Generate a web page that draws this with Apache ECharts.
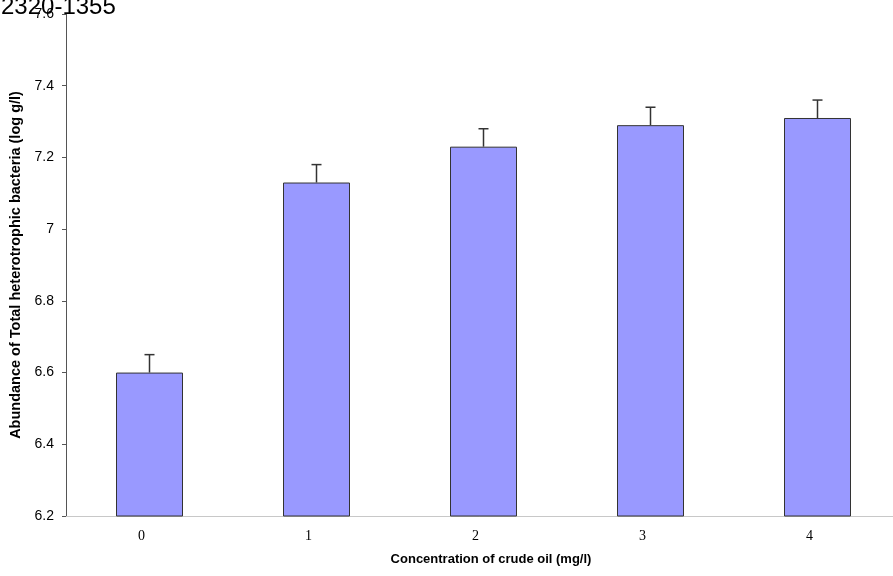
<!DOCTYPE html>
<html>
<head>
<meta charset="utf-8">
<script src="https://cdn.jsdelivr.net/npm/echarts@6/dist/echarts.min.js"></script>
<style>
  html, body { margin: 0; padding: 0; background: #ffffff; }
  #chart { width: 893px; height: 576px; }
</style>
</head>
<body>
<div id="chart"></div>
<script>
// Crude oil concentration (mg/l) and bacterial abundance (log g/l)
const categories = ['0', '1', '2', '3', '4'];
const abundance = [6.6, 7.13, 7.23, 7.29, 7.31];
const errorUp = [0.05, 0.05, 0.05, 0.05, 0.05];
const yTicks = [6.2, 6.4, 6.6, 6.8, 7, 7.2, 7.4, 7.6];

const chart = echarts.init(document.getElementById('chart'));

const errorData = categories.map((c, i) => [i, abundance[i], abundance[i] + errorUp[i]]);

chart.setOption({
  animation: false,
  title: {
    text: '2320-1355',
    left: -4,
    top: -10,
    textStyle: { fontFamily: 'Liberation Sans, Arial, sans-serif', fontSize: 24, fontWeight: 'normal', color: '#000' }
  },
  grid: { left: 66, width: 835, top: 14, bottom: 60, containLabel: false, outerBoundsMode: 'none' },
  xAxis: {
    type: 'category',
    data: categories,
    name: 'Concentration of crude oil (mg/l)',
    nameLocation: 'middle',
    nameGap: 37,
    nameTextStyle: { fontFamily: 'Liberation Sans, Arial, sans-serif', fontSize: 13, fontWeight: 'bold', color: '#000', padding: [0, 0, 0, 15] },
    axisLine: { lineStyle: { color: '#c8c8c8', width: 1 } },
    axisTick: { show: false },
    axisLabel: { fontFamily: 'Liberation Serif, Times New Roman, serif', fontSize: 14, color: '#000', margin: 13, padding: [0, 16, 0, 0] }
  },
  yAxis: {
    type: 'value',
    min: 6.2,
    max: 7.6,
    interval: 0.2,
    name: 'Abundance of Total heterotrophic bacteria (log g/l)',
    nameLocation: 'middle',
    nameGap: 42,
    nameRotate: 90,
    nameTextStyle: { fontFamily: 'Liberation Sans, Arial, sans-serif', fontSize: 14.5, fontWeight: 'bold', color: '#000' },
    axisLine: { show: true, lineStyle: { color: '#555', width: 1 } },
    axisTick: { show: true, length: 4, inside: false, lineStyle: { color: '#555' } },
    axisLabel: {
      fontFamily: 'Liberation Sans, Arial, sans-serif', fontSize: 14, color: '#000', margin: 12,
      formatter: v => {
        const t = yTicks.find(x => Math.abs(x - v) < 1e-6);
        return t === undefined ? '' : String(t);
      }
    },
    splitLine: { show: false }
  },
  series: [
    {
      type: 'bar',
      data: abundance,
      barWidth: 67,
      itemStyle: { color: '#9999ff', borderColor: '#333333', borderWidth: 1 }
    },
    {
      type: 'custom',
      data: errorData,
      renderItem: (params, api) => {
        const x = api.value(0);
        const base = api.coord([x, api.value(1)]);
        const top = api.coord([x, api.value(2)]);
        const half = 5;
        const style = { stroke: '#333', lineWidth: 1.5 };
        return {
          type: 'group',
          children: [
            { type: 'line', shape: { x1: base[0], y1: base[1], x2: top[0], y2: top[1] }, style },
            { type: 'line', shape: { x1: top[0] - half, y1: top[1], x2: top[0] + half, y2: top[1] }, style }
          ]
        };
      },
      z: 5
    }
  ]
});
</script>
</body>
</html>
